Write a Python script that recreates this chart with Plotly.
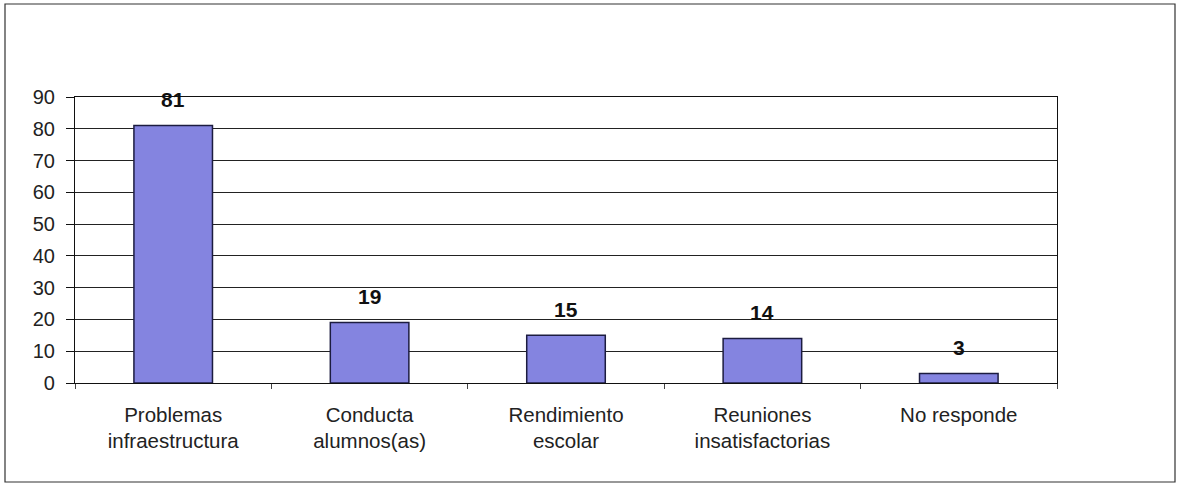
import plotly.graph_objects as go

categories = ["Problemas<br>infraestructura", "Conducta<br>alumnos(as)", "Rendimiento<br>escolar",
              "Reuniones<br>insatisfactorias", "No responde"]
values = [81, 19, 15, 14, 3]
y_ticks = [0, 10, 20, 30, 40, 50, 60, 70, 80, 90]

W, H = 1183, 487
ml, mr, mt, mb = 75, 126, 97, 104
pw, ph = W - ml - mr, H - mt - mb
FONT = "Arial, Liberation Sans, sans-serif"

fig = go.Figure()
fig.add_trace(go.Bar(
    x=categories, y=values,
    marker=dict(color="#8484E0", line=dict(color="#1c1c40", width=1.5)),
    width=0.4,
    hoverinfo="x+y",
))

annotations = []
for c, v in zip(categories, values):
    annotations.append(dict(x=c, y=v, text=str(v), showarrow=False, yanchor="middle",
                            yshift=26, font=dict(family=FONT, size=21,
                                                 color="#111111", weight="bold")))

def px(x):
    return (x - ml) / pw

def py(y):
    return (H - mb - y) / ph

fig.update_layout(
    width=W, height=H,
    margin=dict(l=ml, r=mr, t=mt, b=mb),
    paper_bgcolor="white", plot_bgcolor="white",
    showlegend=False,
    font=dict(family=FONT, size=20, color="#222222"),
    annotations=annotations,
    shapes=[dict(type="rect", xref="paper", yref="paper",
                 x0=px(5), x1=px(1175), y0=py(482), y1=py(4),
                 line=dict(color="#333333", width=1.2), layer="below")],
    xaxis=dict(showline=True, linecolor="#111111", linewidth=1.2, mirror=True,
               ticks="outside", tickson="boundaries", ticklen=5, tickcolor="#444444",
               showgrid=False, tickfont=dict(size=20.5), ticklabelstandoff=13),
    yaxis=dict(range=[0, 90], tickvals=y_ticks, showline=True, linecolor="#111111",
               linewidth=1.2, mirror=True, ticks="outside", ticklen=8, tickcolor="#111111",
               showgrid=True, gridcolor="#222222", gridwidth=1, zeroline=False,
               tickfont=dict(size=20), ticklabelstandoff=7),
)

fig.write_html("out.html", config={"displayModeBar": False},
               post_script="document.body.style.margin='0';")
